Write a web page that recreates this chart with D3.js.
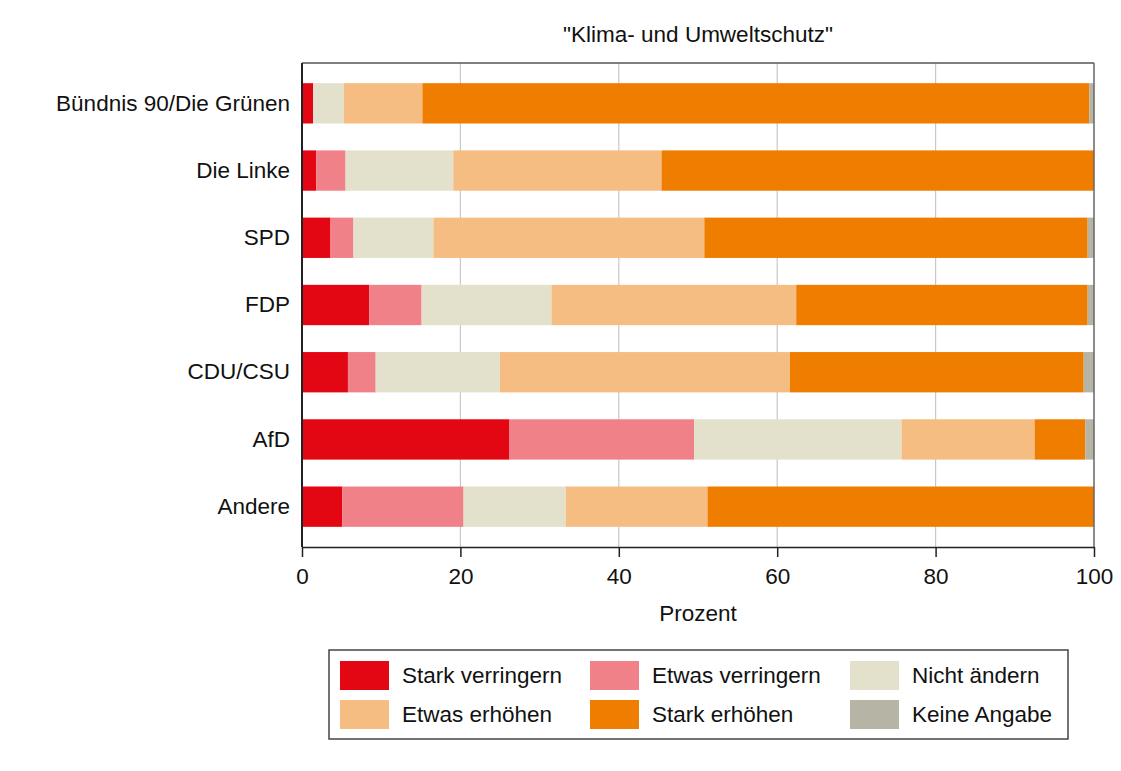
<!DOCTYPE html>
<html><head><meta charset="utf-8">
<script src="https://cdn.jsdelivr.net/npm/d3@7"></script>
<style>body{margin:0;background:#fff}svg{display:block}text{font-family:"Liberation Sans",Arial,sans-serif;fill:#111}</style>
</head><body><svg id="c" width="1121" height="771"></svg>
<script>
const title = '"Klima- und Umweltschutz"';
const parties = ["Bündnis 90/Die Grünen","Die Linke","SPD","FDP","CDU/CSU","AfD","Andere"];
const seriesNames = ["Stark verringern","Etwas verringern","Nicht ändern","Etwas erhöhen","Stark erhöhen","Keine Angabe"];
const colors = ["#e30613","#f08189","#e3e0cc","#f6bd83","#ef7d00","#b5b4a5"];
const starkVerringern = [1.4, 1.8, 3.6, 8.5, 5.8, 26.2, 5.1];
const etwasVerringern = [0.0, 3.7, 2.9, 6.6, 3.5, 23.3, 15.3];
const nichtAendern   = [3.9, 13.6, 10.1, 16.4, 15.7, 26.2, 12.9];
const etwasErhoehen  = [9.9, 26.3, 34.2, 30.9, 36.6, 16.8, 17.9];
const starkErhoehen  = [84.2, 54.6, 48.4, 36.8, 37.1, 6.4, 48.8];
const keineAngabe    = [0.6, 0.0, 0.8, 0.8, 1.3, 1.1, 0.0];
const xTicks = [0,20,40,60,80,100];
const xLabel = "Prozent";

const FS = 22.5;
const seriesVals = [starkVerringern, etwasVerringern, nichtAendern, etwasErhoehen, starkErhoehen, keineAngabe];
const rows = parties.map((p,i)=>{const o={party:p}; seriesNames.forEach((s,j)=>o[s]=seriesVals[j][i]); return o;});
const stack = d3.stack().keys(seriesNames)(rows);

const svg = d3.select("#c");
const L=302, R=1094, T=63, B=547;
const x = d3.scaleLinear().domain([0,100]).range([L,R]);
const y = d3.scaleBand().domain(parties).range([T,B]).paddingInner(0.4).paddingOuter(0.3);
const color = d3.scaleOrdinal().domain(seriesNames).range(colors);

// gridlines
svg.append("g").selectAll("line").data(xTicks.filter(t=>t>0&&t<100)).join("line")
  .attr("x1",d=>x(d)).attr("x2",d=>x(d)).attr("y1",T).attr("y2",B)
  .attr("stroke","#c8c8c8").attr("stroke-width",1.2);

// bars
svg.append("g").selectAll("g").data(stack).join("g").attr("fill",d=>color(d.key))
  .selectAll("rect").data(d=>d).join("rect")
  .attr("x",d=>x(d[0])).attr("width",d=>Math.max(0,x(d[1])-x(d[0])))
  .attr("y",d=>y(d.data.party)).attr("height",y.bandwidth());

// frame
svg.append("line").attr("x1",L).attr("x2",R).attr("y1",T).attr("y2",T).attr("stroke","#555").attr("stroke-width",1.5);
svg.append("line").attr("x1",R).attr("x2",R).attr("y1",T).attr("y2",B).attr("stroke","#666").attr("stroke-width",1.5);
svg.append("line").attr("x1",L).attr("x2",L).attr("y1",T).attr("y2",B).attr("stroke","#222").attr("stroke-width",2);

// x axis
const xa = svg.append("g").attr("transform",`translate(0,${B})`)
  .call(d3.axisBottom(x).tickValues(xTicks).tickSize(10).tickPadding(11).tickSizeOuter(0));
xa.select(".domain").attr("stroke","#222").attr("stroke-width",1.5);
xa.selectAll(".tick line").attr("stroke","#222").attr("stroke-width",1.5);
xa.selectAll(".tick text").attr("font-size",FS).attr("font-family","Liberation Sans, Arial, sans-serif").attr("fill","#111");

// y labels
const ya = svg.append("g").attr("transform",`translate(${L},0)`)
  .call(d3.axisLeft(y).tickSize(0).tickPadding(12));
ya.select(".domain").remove();
ya.selectAll(".tick text").attr("font-size",FS).attr("font-family","Liberation Sans, Arial, sans-serif").attr("fill","#111");

// title & axis label
svg.append("text").attr("x",(L+R)/2).attr("y",42).attr("text-anchor","middle").attr("font-size",FS).text(title);
svg.append("text").attr("x",(L+R)/2).attr("y",621).attr("text-anchor","middle").attr("font-size",FS).text(xLabel);

// legend
const lg = svg.append("g");
lg.append("rect").attr("x",329).attr("y",650).attr("width",739).attr("height",89)
  .attr("fill","none").attr("stroke","#444").attr("stroke-width",1.5);
const colX=[340,590,850], rowY=[661,700];
seriesNames.forEach((s,i)=>{
  const cx=colX[i%3], cy=rowY[Math.floor(i/3)];
  lg.append("rect").attr("x",cx).attr("y",cy).attr("width",49).attr("height",29).attr("fill",color(s));
  lg.append("text").attr("x",cx+62).attr("y",cy+22).attr("font-size",FS).text(s);
});
</script></body></html>
